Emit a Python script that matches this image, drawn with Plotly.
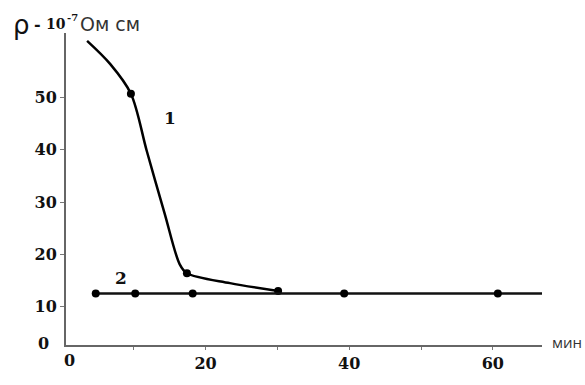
import plotly.graph_objects as go

# Curve 1: time, min ; rho, 10^-7 Ohm*cm
c1_t = [3.5, 6.7, 9.6, 11.8, 14.3, 16.4, 17.4, 23.4, 30.1]
c1_rho = [60.8, 56.4, 50.7, 39.8, 27.8, 18.1, 16.4, 14.5, 13.0]
# measured points marked on curve 1
c1_pts_t = [9.6, 17.4, 30.1]
c1_pts_rho = [50.7, 16.4, 13.0]

# Curve 2
c2_t = [4.7, 10.2, 18.2, 39.3, 60.7, 66.85]
c2_rho = [12.5, 12.5, 12.5, 12.5, 12.5, 12.5]
c2_pts_t = [4.7, 10.2, 18.2, 39.3, 60.7]
c2_pts_rho = [12.5, 12.5, 12.5, 12.5, 12.5]

x_tickvals = [10, 20, 30, 40, 50, 60]
x_ticktext = ["", "20", "", "40", "", "60"]
y_tickvals = [10, 20, 30, 40, 50]
y_ticktext = ["10", "20", "30", "40", "50"]
origin_label = "0"  # printed at the axes corner for both axes

x_range = [0.56, 66.85]
y_range = [2.68, 62.3]

L, R, T, B = 66, 43, 33, 23
W, H = 585, 385
pw, ph = W - L - R, H - T - B


def px_to_paper(px, py):
    return (px - L) / pw, (H - B - py) / ph


fig = go.Figure()
fig.add_trace(go.Scatter(x=c1_t, y=c1_rho, mode="lines",
                         line=dict(color="#000", width=2.5, shape="spline", smoothing=0.9),
                         hoverinfo="skip"))
fig.add_trace(go.Scatter(x=c1_pts_t, y=c1_pts_rho, mode="markers",
                         marker=dict(color="#000", size=8)))
fig.add_trace(go.Scatter(x=c2_t, y=c2_rho, mode="lines",
                         line=dict(color="#111", width=2.5)))
fig.add_trace(go.Scatter(x=c2_pts_t, y=c2_pts_rho, mode="markers",
                         marker=dict(color="#000", size=8)))

tickfont = dict(family="DejaVu Serif", size=16, color="#111")

fig.update_layout(
    width=W, height=H,
    margin=dict(l=L, r=R, t=T, b=B),
    paper_bgcolor="white", plot_bgcolor="white",
    showlegend=False,
    xaxis=dict(range=x_range, tickvals=x_tickvals,
               ticktext=["<b>%s</b>" % t if t else " " for t in x_ticktext],
               showgrid=False, zeroline=False, showline=True, linecolor="#666", linewidth=2,
               ticks="outside", ticklen=3, tickcolor="#777", tickwidth=1,
               tickfont=tickfont),
    yaxis=dict(range=y_range, tickvals=y_tickvals,
               ticktext=["<b>%s</b>" % t for t in y_ticktext],
               showgrid=False, zeroline=False, showline=True, linecolor="#666", linewidth=2,
               ticks="outside", ticklen=4, tickcolor="#777", tickwidth=1,
               tickfont=tickfont),
)

# corner "0" labels
for (cx, cy) in [(43, 360), (69, 378)]:
    ax_, ay_ = px_to_paper(cx, cy)
    fig.add_annotation(xref="paper", yref="paper", x=ax_, y=ay_, xanchor="center",
                       yanchor="middle", showarrow=False, text="<b>%s</b>" % origin_label,
                       font=tickfont)

# title pieces: rho, dash, 10^-7, units
title_parts = [
    (12, 25, "ρ", dict(family="DejaVu Sans", size=26, color="#111")),
    (33, 24, "<b>-</b>", dict(family="DejaVu Serif", size=16, color="#111")),
    (45, 24, "<b>10</b>", dict(family="DejaVu Serif", size=14, color="#111")),
    (66, 17, "<b>-7</b>", dict(family="DejaVu Serif", size=10, color="#111")),
    (79, 24, "Ом см", dict(family="DejaVu Sans", size=19, color="#333")),
]
for (px, py, txt, f) in title_parts:
    ax_, ay_ = px_to_paper(px, py)
    fig.add_annotation(xref="paper", yref="paper", x=ax_, y=ay_, xanchor="left",
                       yanchor="middle", showarrow=False, text=txt, font=f, borderpad=0)

mx, my = px_to_paper(584, 359)
fig.add_annotation(xref="paper", yref="paper", x=mx, y=my, xanchor="right", yanchor="middle",
                   showarrow=False, text="мин",
                   font=dict(family="Open Sans", size=15, color="#333"))

fig.add_annotation(x=15.0, y=46, showarrow=False, text="<b>1</b>",
                   font=dict(family="DejaVu Serif", size=17, color="#111"))
fig.add_annotation(x=8.2, y=15.4, showarrow=False, text="<b>2</b>",
                   font=dict(family="DejaVu Serif", size=17, color="#111"))

fig.write_html(
    "out.html", config={"displayModeBar": False},
    post_script="document.body.style.margin='0';")
